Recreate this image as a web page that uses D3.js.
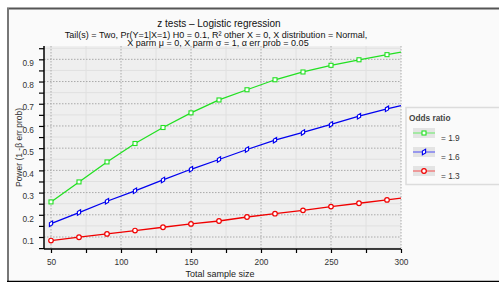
<!DOCTYPE html>
<html>
<head>
<meta charset="utf-8">
<script src="https://cdn.jsdelivr.net/npm/d3@7"></script>
<style>
  body { margin: 0; background: #ffffff; }
  svg { display: block; font-family: "Liberation Sans", Arial, sans-serif; }
</style>
</head>
<body>
<div id="chart"></div>
<script>
// Data
let sample_sizes = [50, 70, 90, 110, 130, 150, 170, 190, 210, 230, 250, 270, 290, 300];
let power_19 = [0.258, 0.348, 0.438, 0.521, 0.593, 0.659, 0.717, 0.763, 0.808, 0.843, 0.873, 0.898, 0.921, 0.932];
let power_16 = [0.160, 0.210, 0.261, 0.308, 0.357, 0.405, 0.449, 0.494, 0.536, 0.571, 0.607, 0.644, 0.677, 0.692];
let power_13 = [0.084, 0.099, 0.114, 0.129, 0.144, 0.159, 0.172, 0.190, 0.205, 0.220, 0.237, 0.252, 0.267, 0.275];
let odds_labels = ["= 1.9", "= 1.6", "= 1.3"];
let x_ticks = [50, 100, 150, 200, 250, 300];
let y_ticks = [0.1, 0.2, 0.3, 0.4, 0.5, 0.6, 0.7, 0.8, 0.9];

let series = [
  { label: odds_labels[0], values: power_19, color: "#22e022", light: "#80ea80", marker: "square" },
  { label: odds_labels[1], values: power_16, color: "#0000f0", light: "#6e6ef2", marker: "diamond" },
  { label: odds_labels[2], values: power_13, color: "#f00000", light: "#f27070", marker: "circle" },
];

let width = 499, height = 282;
let plot = { left: 44, right: 401, top: 46, bottom: 249 };

let svg = d3.select("#chart").append("svg").attr("width", width).attr("height", height);

// outer frame
svg.append("rect").attr("x", 7).attr("y", 8).attr("width", width - 7).attr("height", 273).attr("fill", "#fafafa");
svg.append("line").attr("x1", 7).attr("x2", width).attr("y1", 8.5).attr("y2", 8.5).attr("stroke", "#555").attr("stroke-width", 2);
svg.append("line").attr("x1", 8).attr("x2", 8).attr("y1", 8).attr("y2", 281).attr("stroke", "#777").attr("stroke-width", 2);
svg.append("line").attr("x1", 7).attr("x2", width).attr("y1", 281.5).attr("y2", 281.5).attr("stroke", "#000").attr("stroke-width", 1.5);

let x = d3.scaleLinear().domain([45, 300]).range([plot.left, plot.right]);
let y = d3.scaleLinear().domain([0.046, 0.96]).range([plot.bottom, plot.top]);

// plot background
svg.append("rect")
  .attr("x", plot.left).attr("y", plot.top)
  .attr("width", plot.right - plot.left).attr("height", plot.bottom - plot.top)
  .attr("fill", "#efefef");

// minor grid (solid, light)
let x_minor = d3.range(75, 300, 50);
let y_minor = d3.range(0.05, 0.96, 0.1);
svg.append("g").selectAll("line").data(x_minor).enter().append("line")
  .attr("x1", (d) => x(d)).attr("x2", (d) => x(d))
  .attr("y1", plot.top).attr("y2", plot.bottom)
  .attr("stroke", "#e0e0e0").attr("stroke-width", 1);
svg.append("g").selectAll("line").data(y_minor).enter().append("line")
  .attr("x1", plot.left).attr("x2", plot.right)
  .attr("y1", (d) => y(d)).attr("y2", (d) => y(d))
  .attr("stroke", "#e0e0e0").attr("stroke-width", 1);

// major grid (dotted)
svg.append("g").selectAll("line").data(x_ticks).enter().append("line")
  .attr("x1", (d) => x(d)).attr("x2", (d) => x(d))
  .attr("y1", plot.top).attr("y2", plot.bottom)
  .attr("stroke", "#aaa").attr("stroke-width", 1).attr("stroke-dasharray", "1.5,1.5");
svg.append("g").selectAll("line").data(y_ticks).enter().append("line")
  .attr("x1", plot.left).attr("x2", plot.right)
  .attr("y1", (d) => y(d)).attr("y2", (d) => y(d))
  .attr("stroke", "#aaa").attr("stroke-width", 1).attr("stroke-dasharray", "1.5,1.5");

// axes
let x_axis = d3.axisBottom(x)
  .tickValues(d3.range(50, 301, 25))
  .tickSize(4)
  .tickFormat((d) => (d % 50 == 0 ? d : ""));
let gx = svg.append("g").attr("transform", "translate(0," + plot.bottom + ")").call(x_axis);
gx.select(".domain").attr("stroke", "#000").attr("stroke-width", 1.5).attr("d", "M" + plot.left + ",0H" + plot.right);
gx.selectAll(".tick line").attr("stroke", "#000").attr("stroke-width", 1.2);
gx.selectAll(".tick text").attr("font-size", 8.3).attr("fill", "#333").attr("dy", "1.1em");

let y_axis = d3.axisLeft(y)
  .tickValues(d3.range(0.05, 0.951, 0.05))
  .tickSize(5)
  .tickFormat((d) => (Math.round(d * 100) % 10 == 0 ? d3.format(".1f")(d) : ""));
let gy = svg.append("g").attr("transform", "translate(" + plot.left + ",0)").call(y_axis);
gy.select(".domain").attr("stroke", "#000").attr("stroke-width", 1.5).attr("d", "M0," + plot.bottom + "V" + plot.top);
gy.selectAll(".tick line").attr("stroke", "#000").attr("stroke-width", 1.2);
gy.selectAll(".tick text").attr("font-size", 8.3).attr("fill", "#333").attr("x", -10).attr("dy", "0.75em");

// axis titles
svg.append("text").attr("x", 220).attr("y", 277).attr("text-anchor", "middle")
  .attr("font-size", 9).attr("fill", "#222").text("Total sample size");
svg.append("text").attr("transform", "translate(22," + (plot.top + plot.bottom) / 2 + ") rotate(-90)")
  .attr("text-anchor", "middle").attr("font-size", 8.5).attr("fill", "#333").text("Power (1 -β err prob)");

// titles
svg.append("text").attr("x", 219).attr("y", 26.5).attr("text-anchor", "middle")
  .attr("font-size", 10).attr("fill", "#111").text("z tests – Logistic regression");
svg.append("text").attr("x", 216).attr("y", 37.5).attr("text-anchor", "middle")
  .attr("font-size", 9).attr("fill", "#111")
  .text("Tail(s) = Two, Pr(Y=1|X=1) H0 = 0.1, R² other X = 0, X distribution = Normal,");
svg.append("text").attr("x", 218).attr("y", 46).attr("text-anchor", "middle")
  .attr("font-size", 9).attr("fill", "#111")
  .text("X parm μ = 0, X parm σ = 1, α err prob = 0.05");

// markers
function drawMarker(g, type, color, cx, cy) {
  if (type == "circle") {
    g.append("circle").attr("cx", cx).attr("cy", cy).attr("r", 2.3)
      .attr("fill", "#fff").attr("stroke", color).attr("stroke-width", 1.2);
  } else if (type == "square") {
    g.append("rect").attr("x", cx - 2).attr("y", cy - 2).attr("width", 4).attr("height", 4)
      .attr("fill", "#fff").attr("stroke", color).attr("stroke-width", 1.1);
  } else {
    g.append("path").attr("transform", "translate(" + cx + "," + cy + ") rotate(30)")
      .attr("d", d3.symbol().type(d3.symbolDiamond).size(12)())
      .attr("fill", "#fff").attr("stroke", color).attr("stroke-width", 1.1);
  }
}

let line = d3.line().x((d) => x(d[0])).y((d) => y(d[1]));

series.forEach((s) => {
  let pts = sample_sizes.map((n, i) => [n, s.values[i]]);
  let g = svg.append("g");
  g.append("path").attr("d", line(pts)).attr("fill", "none")
    .attr("stroke", s.color).attr("stroke-width", 1.3);
  // markers every 20 units, not on the end point
  pts.slice(0, pts.length - 1).forEach((p) => drawMarker(g, s.marker, s.color, x(p[0]), y(p[1])));
});

// legend
let legend = svg.append("g");
legend.append("rect").attr("x", 406).attr("y", 107.5).attr("width", 110).attr("height", 77)
  .attr("fill", "#fafafa").attr("stroke", "#dcdcdc").attr("stroke-width", 1.5);
legend.append("text").attr("x", 409).attr("y", 121).attr("font-size", 8.3).attr("font-weight", 600)
  .attr("fill", "#444").text("Odds ratio");
series.forEach((s, i) => {
  let cy = 133 + i * 19;
  legend.append("rect").attr("x", 413).attr("y", cy - 5).attr("width", 22).attr("height", 10).attr("fill", "#e4e4e4");
  legend.append("line").attr("x1", 413).attr("x2", 435).attr("y1", cy).attr("y2", cy)
    .attr("stroke", s.light).attr("stroke-width", 1.3);
  drawMarker(legend, s.marker, s.color, 424, cy);
  legend.append("text").attr("x", 441).attr("y", cy + 8).attr("font-size", 8.3).attr("fill", "#333").text(s.label);
});
</script>
</body>
</html>
